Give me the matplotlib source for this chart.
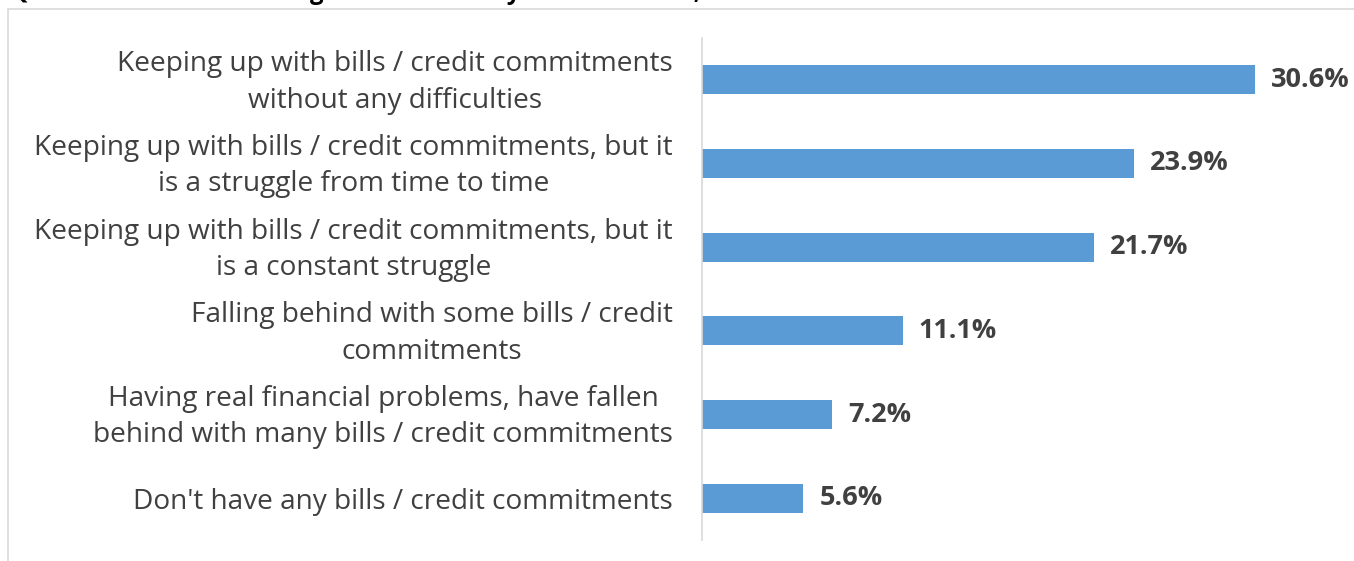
import matplotlib.pyplot as plt
from matplotlib.patches import Rectangle
from matplotlib.transforms import ScaledTranslation

# Data
categories = [
    'Keeping up with bills / credit commitments\nwithout any difficulties',
    'Keeping up with bills / credit commitments, but it\nis a struggle from time to time',
    'Keeping up with bills / credit commitments, but it\nis a constant struggle',
    'Falling behind with some bills / credit\ncommitments',
    'Having real financial problems, have fallen\nbehind with many bills / credit commitments',
    "Don't have any bills / credit commitments",
]
values = [30.6, 23.9, 21.7, 11.1, 7.2, 5.6]
title = 'Q5. Which of the following best describes your household, at the current time?'

W, H = 1354, 561
fig = plt.figure(figsize=(W / 100, H / 100), dpi=100)
plt.rcParams['font.family'] = ['Open Sans', 'DejaVu Sans']

# outer chart border (clipped by the image edges)
fig.patches.append(Rectangle((8 / W, -0.1), 1.2, (H - 9) / H + 0.1, transform=fig.transFigure,
                             fill=False, edgecolor='#D9D9D9', linewidth=1.2))

# title, mostly cut off at the top of the picture
fig.text(10 / W, 1 + 1 / H, title, fontsize=17.2, fontweight='bold', color='black',
         ha='left', va='baseline')

ax = fig.add_axes([702 / W, 1 - 540 / H, (W - 702) / W, 502 / H])
ypos = list(range(len(values)))
ax.barh(ypos, values, height=0.35, color='#5B9BD5')
ax.set_ylim(len(values) - 0.5, -0.5)
ax.set_xlim(0, (W - 702) / 18.07)

for y, v in zip(ypos, values):
    ax.text(v + 0.9, y, f'{v:.1f}%', va='center', ha='left', fontsize=19.5,
            fontweight='bold', color='#404040')

ax.set_yticks(ypos)
ax.set_yticklabels(categories, fontsize=20.2, color='#404040', ha='right',
                   multialignment='center', linespacing=1.4)
ax.tick_params(axis='y', length=0, pad=21)
# two-line labels sit a little high in the original
for lab in ax.get_yticklabels():
    if '\n' in lab.get_text():
        lab.set_transform(lab.get_transform() + ScaledTranslation(0, 5 / 100, fig.dpi_scale_trans))
ax.set_xticks([])
for s in ['top', 'right', 'bottom']:
    ax.spines[s].set_visible(False)
ax.spines['left'].set_color('#D9D9D9')
ax.spines['left'].set_linewidth(1.2)

fig.savefig('out.png', dpi=100)
plt.close()
